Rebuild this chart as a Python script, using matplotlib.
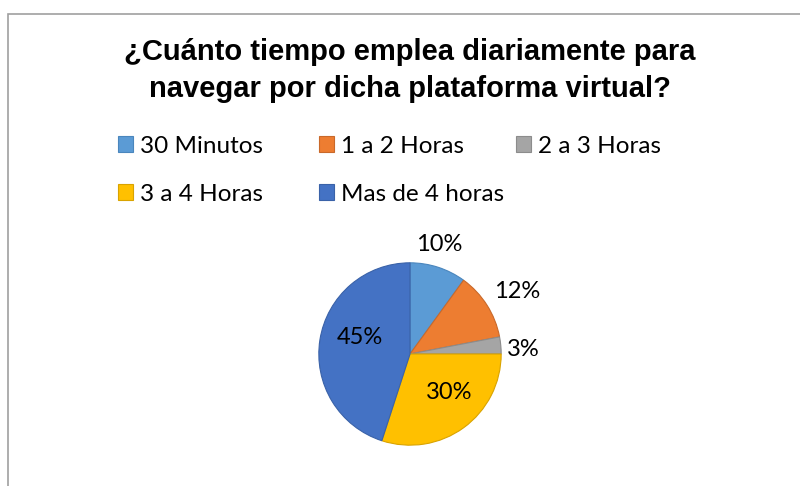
import matplotlib.pyplot as plt
from matplotlib.patches import Rectangle, Patch
import numpy as np

# data
categorias = ['30 Minutos', '1 a 2 Horas', '2 a 3 Horas', '3 a 4 Horas', 'Mas de 4 horas']
porcentajes = [10, 12, 3, 30, 45]
colores = ['#5B9BD5', '#ED7D31', '#A5A5A5', '#FFC000', '#4472C4']
bordes = ['#4a86bd', '#c9692a', '#8c8c8c', '#d9a300', '#3a62a8']
titulo = '¿Cuánto tiempo emplea diariamente para\nnavegar por dicha plataforma virtual?'

# label placement: distance from centre (in radii) and a small angle shift
lbl_dist = [1.24, 1.36, 1.24, 0.6, 0.58]
lbl_shift = [3, -2, -3, 9, -9]

W, H = 800, 486
fig = plt.figure(figsize=(8, 4.86), dpi=100)

# chart frame
fig.patches.append(Rectangle((8 / W, -0.1), 1.2, (H - 14) / H + 0.1,
                             transform=fig.transFigure, fill=False,
                             edgecolor='#a0a0a0', linewidth=1.2))

fig.text(410 / W, 1 - 70.5 / H, titulo, ha='center', va='center',
         fontsize=21, fontweight='bold', family='Liberation Sans',
         linespacing=1.38, color='#000000')

# legend, fixed column grid like excel
leg_x = [118, 319, 516, 118, 319]
leg_y = [146, 146, 146, 194, 194]
for i in range(len(categorias)):
    h = Patch(facecolor=colores[i], edgecolor=bordes[i], linewidth=0.8)
    fig.legend([h], [categorias[i]], loc='center left',
               bbox_to_anchor=(leg_x[i] / W, 1 - leg_y[i] / H),
               frameon=False, borderpad=0, borderaxespad=0,
               handlelength=0.62, handleheight=0.62, handletextpad=0.28,
               prop={'family': 'Lato', 'size': 17.5})

# pie
cx, cy, r = 410, 354, 93
ax = fig.add_axes([(cx - r) / W, (H - cy - r) / H, 2 * r / W, 2 * r / H])
wedges, _ = ax.pie(porcentajes, colors=colores, startangle=90, counterclock=False,
                   radius=1, wedgeprops={'linewidth': 0.8})
for w, e in zip(wedges, bordes):
    w.set_edgecolor(e)
ax.set_xlim(-1.02, 1.02)
ax.set_ylim(-1.02, 1.02)
ax.set_aspect('equal')
ax.axis('off')

for i, w in enumerate(wedges):
    ang = np.deg2rad((w.theta1 + w.theta2) / 2 + lbl_shift[i])
    d = lbl_dist[i]
    ax.text(d * np.cos(ang), d * np.sin(ang), f'{porcentajes[i]}%',
            ha='center', va='center', fontsize=17, family='Lato',
            color='#000000', clip_on=False)

fig.savefig('out.png', dpi=100)
